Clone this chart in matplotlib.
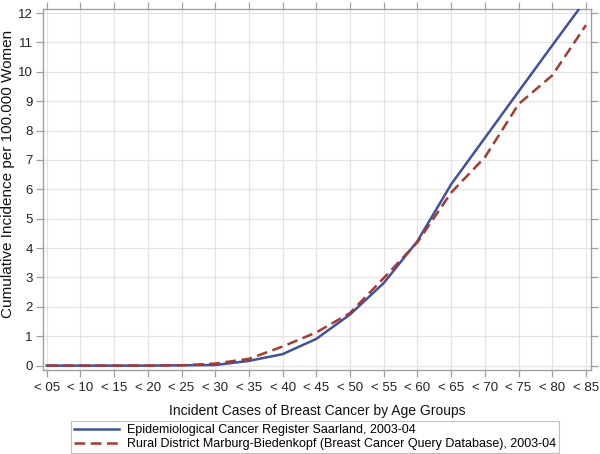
import matplotlib
matplotlib.use("Agg")
import matplotlib.pyplot as plt
import numpy as np

plt.rcParams['font.family'] = ['Liberation Sans', 'DejaVu Sans']

categories = ["< 05", "< 10", "< 15", "< 20", "< 25", "< 30", "< 35", "< 40", "< 45",
              "< 50", "< 55", "< 60", "< 65", "< 70", "< 75", "< 80", "< 85"]
saarland = [0, 0, 0, 0, 0.01, 0.02, 0.16, 0.39, 0.91, 1.74, 2.81, 4.24, 6.17, 7.75, 9.33, 10.9, 12.46]
marburg = [0, 0, 0, 0, 0.01, 0.07, 0.23, 0.65, 1.13, 1.79, 2.98, 4.2, 5.89, 7.09, 8.9, 9.88, 11.59]
yticks = list(range(0, 13))
label_s = "Epidemiological Cancer Register Saarland, 2003-04"
label_m = "Rural District Marburg-Biedenkopf (Breast Cancer Query Database), 2003-04"

fig = plt.figure(figsize=(6.0, 4.54), dpi=100)
ax = fig.add_axes([43/600, 1-370/454, (591-43)/600, (370-9)/454])

x = np.arange(len(categories))
ax.plot(x, saarland, color='#3F51A0', lw=1.8, label=label_s, zorder=3)
ax.plot(x, marburg, color='#A83A30', lw=1.8, ls=(0, (4.3, 2.2)), label=label_m, zorder=3)

ax.set_xlim(-0.11, 16.15)
ax.set_ylim(-0.15, 12.14)
ax.set_xticks(x)
ax.set_xticklabels(categories)
ax.set_yticks(yticks)
ax.grid(True, color='#e4e4e4', lw=0.9)
ax.set_axisbelow(True)
for s in ax.spines.values():
    s.set_color('#a0a0a0')
    s.set_linewidth(1.0)
ax.tick_params(axis='both', colors='#a0a0a0', labelcolor='#222222', labelsize=9.5,
               length=5, width=0.9, top=True, right=True)
ax.tick_params(axis='y', pad=2.5)
ax.set_xlabel("Incident Cases of Breast Cancer by Age Groups", fontsize=10, color='#111111', labelpad=7)
ax.set_ylabel("Cumulative Incidence per 100.000 Women", fontsize=11, color='#111111')
ax.yaxis.set_label_coords(-0.051, 0.543)

leg = fig.legend(loc='lower center', bbox_to_anchor=(315/600, 1/454), ncol=1, fontsize=9.0,
                 frameon=True, fancybox=False, edgecolor='#b0b0b0', handlelength=3.6,
                 borderpad=0.25, labelspacing=0.15, handletextpad=0.64, borderaxespad=0)
leg.get_frame().set_linewidth(0.8)

fig.savefig("out.png", dpi=100)
